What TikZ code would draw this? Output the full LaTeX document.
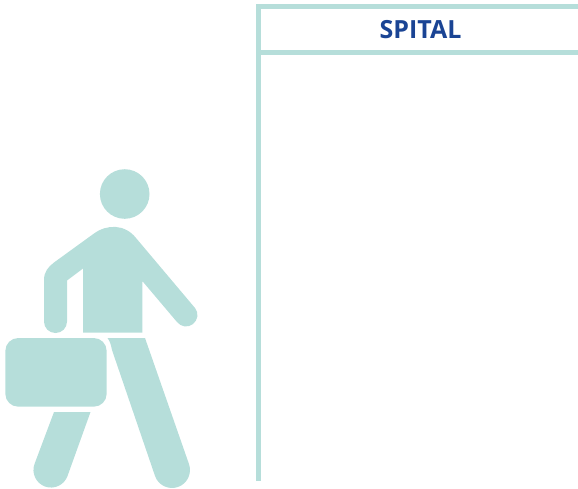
\documentclass[tikz,border=0pt]{standalone}
\usepackage{fontspec}
\setmainfont{Open Sans}
\definecolor{teal1}{HTML}{B6DEDA}
\definecolor{navy1}{HTML}{1A4494}
\tikzset{figure/.style={fill=teal1,draw=none},frameline/.style={draw=teal1,line width=5.2pt}}
\begin{document}
\begin{tikzpicture}[x=1pt,y=-1pt]
\useasboundingbox (0,0) rectangle (578,488);
% building
\draw[frameline] (258.8,481) -- (258.8,6.6) -- (578,6.6);
\draw[frameline] (258.8,52.4) -- (578,52.4);
\node[text=navy1,font=\bfseries\fontsize{25}{28}\selectfont,inner sep=0pt] (title) at (420.5,29.5) {SPITAL};
% head
\fill[figure] (124.7,194) circle (24.8);
% torso and arms
\fill[figure] (44,321.5) -- (44,280)
  .. controls (44,272) and (48,267) .. (54,262.5)
  -- (94,233.5)
  .. controls (107,224) and (125,224) .. (136,238)
  -- (195,308)
  .. controls (199,313) and (198,320) .. (193,324)
  .. controls (188,328) and (181,327) .. (177,322)
  -- (142.3,281) -- (142.3,332.5) -- (83,332.5) -- (83,268.5) -- (67,280.5)
  -- (67,321.5)
  .. controls (67,328) and (62,333) .. (55.5,333)
  .. controls (49,333) and (44,328) .. (44,321.5) -- cycle;
% suitcase
\fill[figure,rounded corners=13pt] (5.3,338) rectangle (106.7,406.7);
% front leg
\fill[figure] (107.5,338) -- (145,338) -- (189,464.1)
  .. controls (192.2,473.5) and (187.3,483.8) .. (177.9,487)
  .. controls (168.5,490.2) and (158.2,485.3) .. (155,475.9)
  -- (112,350) .. controls (111,345) and (110,341) .. (107.5,338) -- cycle;
% rear leg
\fill[figure] (54,412) -- (90.5,412) -- (67.5,476)
  .. controls (64.2,485.1) and (54.1,489.8) .. (45,486.5)
  .. controls (35.9,483.2) and (31.2,473.1) .. (34.5,464) -- cycle;
\end{tikzpicture}
\end{document}
